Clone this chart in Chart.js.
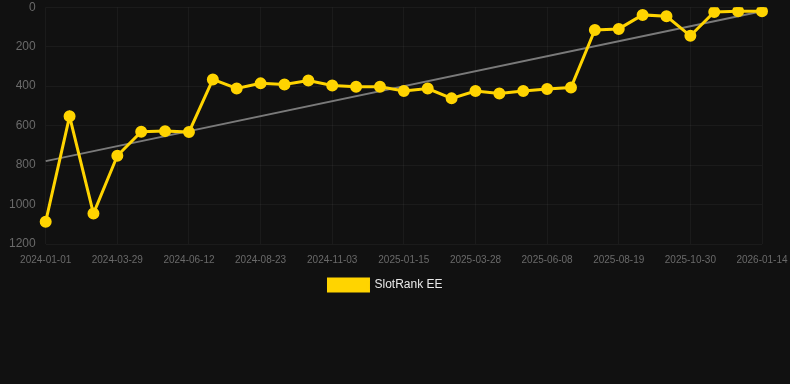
<!DOCTYPE html>
<html>
<head>
<meta charset="utf-8">
<script src="https://cdn.jsdelivr.net/npm/chart.js@4"></script>
<style>
html,body{margin:0;padding:0;background:#111111;}
#wrap{width:790px;height:301px;position:relative;}
</style>
</head>
<body>
<div id="wrap"><canvas id="c"></canvas></div>
<script>
const dateLabels = [
  "2024-01-01","2024-01-30","2024-02-28","2024-03-29","2024-04-23","2024-05-18",
  "2024-06-12","2024-07-06","2024-07-30","2024-08-23","2024-09-16","2024-10-10",
  "2024-11-03","2024-11-27","2024-12-21","2025-01-15","2025-02-08","2025-03-04",
  "2025-03-28","2025-04-21","2025-05-15","2025-06-08","2025-07-02","2025-07-26",
  "2025-08-19","2025-09-12","2025-10-06","2025-10-30","2025-11-23","2025-12-19",
  "2026-01-14"
];
const rankValues = [
  1087, 553, 1046, 753, 631, 628, 633, 366, 412, 386, 392, 371,
  397, 403, 403, 425, 412, 462, 425, 437, 425, 415, 407, 115,
  110, 39, 46, 145, 24, 20, 20
];
const trendValues = [780].concat(new Array(29).fill(null)).concat([20]);
const yTicks = [0, 200, 400, 600, 800, 1000, 1200];
const seriesName = "SlotRank EE";

new Chart(document.getElementById('c'), {
  type: 'line',
  data: {
    labels: dateLabels,
    datasets: [
      {
        label: seriesName,
        data: rankValues,
        borderColor: '#FFD400',
        backgroundColor: '#FFD400',
        borderWidth: 3,
        pointRadius: 4.5,
        pointBackgroundColor: '#FFD400',
        pointBorderColor: '#FFD400',
        tension: 0,
        order: 1
      },
      {
        label: 'trend',
        data: trendValues,
        borderColor: '#7a7a7a',
        borderWidth: 2,
        pointRadius: 0,
        spanGaps: true,
        tension: 0,
        order: 2
      }
    ]
  },
  options: {
    responsive: true,
    maintainAspectRatio: false,
    animation: false,
    layout: { autoPadding: false, padding: { left: 9, right: 28, top: 0, bottom: 0 } },
    plugins: {
      legend: {
        position: 'bottom',
        labels: {
          color: '#e8e8e8',
          font: { family: 'Liberation Sans, Arial, sans-serif', size: 12 },
          boxWidth: 40,
          boxHeight: 12,
          padding: 13,
          filter: (item) => item.text === seriesName
        }
      },
      tooltip: { enabled: false }
    },
    scales: {
      x: {
        grid: { color: 'rgba(255,255,255,0.045)', drawTicks: true, tickLength: 10, tickColor: 'rgba(0,0,0,0)' },
        border: { display: false },
        ticks: {
          color: '#6a6a6a',
          font: { family: 'Liberation Sans, Arial, sans-serif', size: 10 },
          maxRotation: 0,
          autoSkip: false,
          padding: 0,
          callback: function(v, i) { return i % 3 === 0 ? dateLabels[i] : null; }
        }
      },
      y: {
        reverse: true,
        min: 0,
        max: 1200,
        afterBuildTicks: (axis) => { axis.ticks = yTicks.map(v => ({ value: v })); },
        grid: { color: 'rgba(255,255,255,0.045)', drawTicks: true, tickLength: 10, tickColor: 'rgba(0,0,0,0)' },
        border: { display: false },
        ticks: {
          color: '#6a6a6a',
          font: { family: 'Liberation Sans, Arial, sans-serif', size: 12 },
          padding: 0,
          callback: (v) => String(v)
        }
      }
    }
  }
});
</script>
</body>
</html>
